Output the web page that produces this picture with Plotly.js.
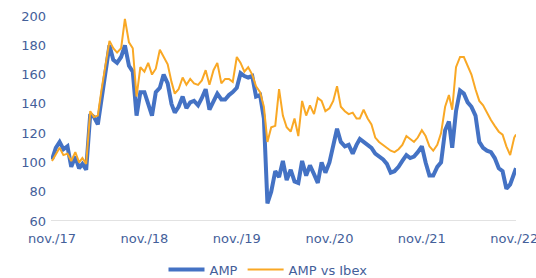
<!DOCTYPE html>
<html>
<head>
<meta charset="utf-8">
<script src="https://cdn.plot.ly/plotly-3.0.1.min.js"></script>
<style>html,body{margin:0;padding:0;background:#fff;}#chart{width:536px;height:278px;}</style>
</head>
<body>
<div id="chart"></div>
<script>
// Half-monthly dates from nov-2017 to nov-2022
const dates = [
"2017-11-01","2017-11-16","2017-12-01","2017-12-16",
"2018-01-01","2018-01-16","2018-02-01","2018-02-16","2018-03-01","2018-03-16","2018-04-01","2018-04-16",
"2018-05-01","2018-05-16","2018-06-01","2018-06-16","2018-07-01","2018-07-16","2018-08-01","2018-08-16",
"2018-09-01","2018-09-16","2018-10-01","2018-10-16","2018-11-01","2018-11-16","2018-12-01","2018-12-16",
"2019-01-01","2019-01-16","2019-02-01","2019-02-16","2019-03-01","2019-03-16","2019-04-01","2019-04-16",
"2019-05-01","2019-05-16","2019-06-01","2019-06-16","2019-07-01","2019-07-16","2019-08-01","2019-08-16",
"2019-09-01","2019-09-16","2019-10-01","2019-10-16","2019-11-01","2019-11-16","2019-12-01","2019-12-16",
"2020-01-01","2020-01-16","2020-02-01","2020-02-16","2020-03-01","2020-03-16","2020-04-01","2020-04-16",
"2020-05-01","2020-05-16","2020-06-01","2020-06-16","2020-07-01","2020-07-16","2020-08-01","2020-08-16",
"2020-09-01","2020-09-16","2020-10-01","2020-10-16","2020-11-01","2020-11-16","2020-12-01","2020-12-16",
"2021-01-01","2021-01-16","2021-02-01","2021-02-16","2021-03-01","2021-03-16","2021-04-01","2021-04-16",
"2021-05-01","2021-05-16","2021-06-01","2021-06-16","2021-07-01","2021-07-16","2021-08-01","2021-08-16",
"2021-09-01","2021-09-16","2021-10-01","2021-10-16","2021-11-01","2021-11-16","2021-12-01","2021-12-16",
"2022-01-01","2022-01-16","2022-02-01","2022-02-16","2022-03-01","2022-03-16","2022-04-01","2022-04-16",
"2022-05-01","2022-05-16","2022-06-01","2022-06-16","2022-07-01","2022-07-16","2022-08-01","2022-08-16",
"2022-09-01","2022-09-16","2022-10-01","2022-10-16","2022-11-01","2022-11-08"
];

const amp = [
102,110,114,109,
111,97,104,96,99,95,133,131,
126,145,163,180,170,168,172,180,
166,162,132,148,148,140,132,148,
151,160,154,140,134,138,145,137,
141,142,139,144,150,136,141,147,
143,143,146,148,151,161,159,158,
159,145,146,130,72,80,94,90,
101,88,95,87,86,101,91,98,
92,86,100,93,100,113,123,114,
111,112,106,112,116,114,112,110,
106,104,102,99,93,94,97,101,
105,103,104,107,111,100,91,91,
97,100,122,128,110,135,149,147,
141,138,132,114,110,108,107,103,
96,94,82,85,92,96
];

const ampVsIbex = [
101,106,110,105,
106,101,107,100,103,99,135,131,
132,150,167,183,178,175,178,198,
182,178,145,165,162,168,160,164,
177,172,167,155,147,150,158,153,
157,154,153,156,163,153,163,168,
154,157,157,155,172,168,162,165,
160,152,148,138,114,124,125,150,
132,124,121,130,118,142,132,139,
133,144,142,135,137,142,152,138,
135,133,134,130,130,136,130,126,
117,114,112,110,108,107,109,112,
118,116,114,117,122,118,111,108,
112,120,138,146,136,165,172,172,
166,160,150,142,139,134,129,125,
121,119,111,105,117,119
];

const tickDates = ["2017-11-01","2018-11-01","2019-11-01","2020-11-01","2021-11-01","2022-11-01"];
const tickLabels = ["nov./17","nov./18","nov./19","nov./20","nov./21","nov./22"];
const yTicks = [60,80,100,120,140,160,180,200];

const textColor = "#44609A";
const font = {family: "DejaVu Sans", size: 13, color: textColor};

const traces = [
  {x: dates, y: amp, name: "AMP", type: "scatter", mode: "lines",
   line: {color: "#4472C4", width: 4}},
  {x: dates, y: ampVsIbex, name: "AMP vs Ibex", type: "scatter", mode: "lines",
   line: {color: "#F9A825", width: 2}}
];

const layout = {
  width: 536, height: 278,
  margin: {l: 51, r: 20, t: 16, b: 57, autoexpand: false},
  paper_bgcolor: "#fff", plot_bgcolor: "#fff",
  font: font,
  showlegend: true,
  legend: {orientation: "h", x: 0.5, xref: "container", xanchor: "center",
           y: 0.03, yref: "container", yanchor: "middle",
           font: font, itemwidth: 36, tracegroupgap: 0},
  xaxis: {type: "date", range: ["2017-10-28", "2022-11-08"], automargin: false,
          tickvals: tickDates, ticktext: tickLabels, showgrid: false, zeroline: false,
          showline: false, ticks: "", tickfont: font, ticklabeloverflow: "allow",
          ticklabelstandoff: 8},
  yaxis: {range: [60, 200], tickvals: yTicks, showgrid: false, zeroline: false, automargin: false,
          showline: false, ticks: "", tickfont: font, ticklabelstandoff: 4},
  shapes: [{type: "line", xref: "paper", yref: "y", x0: 0, x1: 1, y0: 60, y1: 60,
            line: {color: "#D9D9D9", width: 1.5}}]
};

Plotly.newPlot("chart", traces, layout, {displayModeBar: false, staticPlot: true});
</script>
</body>
</html>
